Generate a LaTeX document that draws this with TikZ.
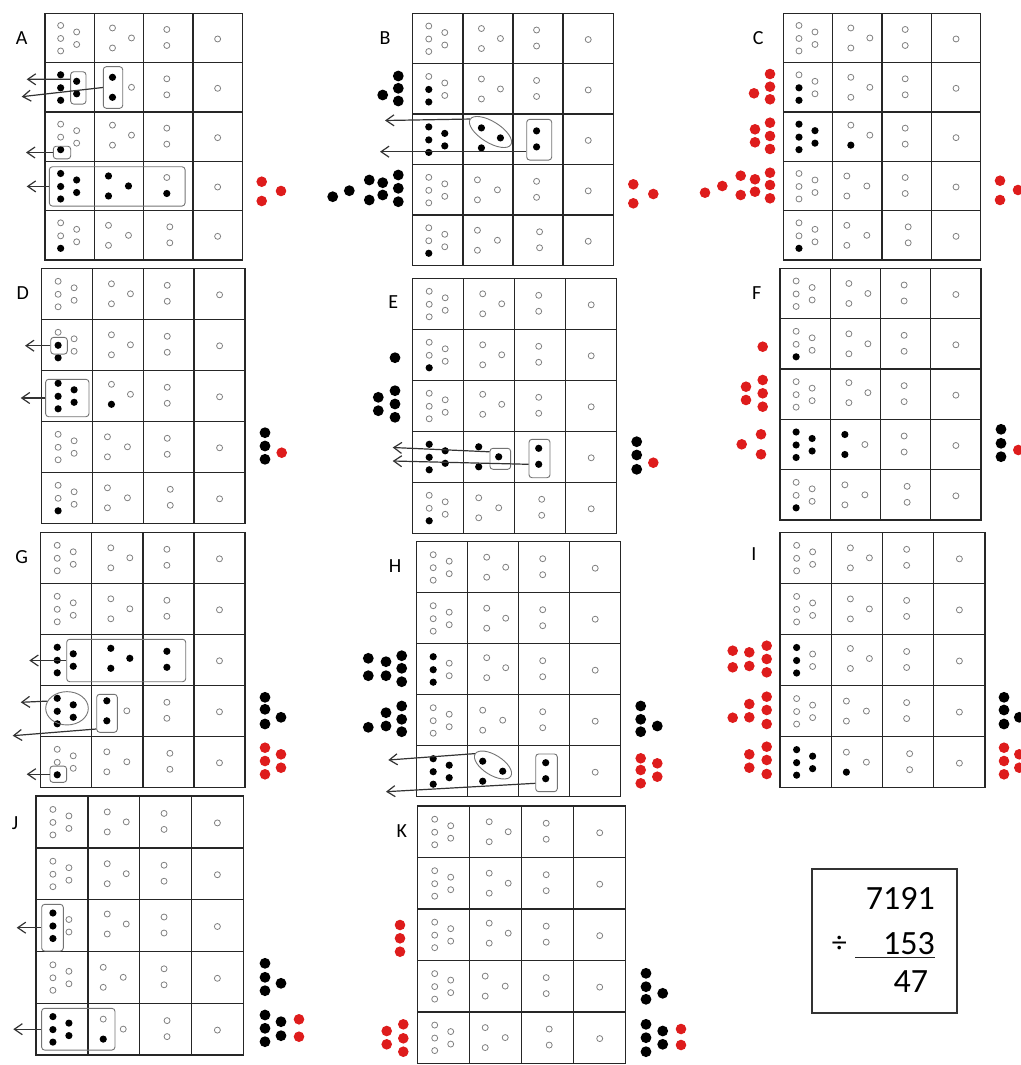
\documentclass[tikz,border=0pt]{standalone}
\usepackage{fontspec}
\setmainfont{Carlito}
\usetikzlibrary{arrows.meta,shapes.geometric}
\definecolor{dotred}{RGB}{222,28,28}
\newcommand\panel[4]{%
  \def\pX{#1}\def\pY{#2}%
  \pgfmathsetmacro\pcw{(#3-#1)/4}\pgfmathsetmacro\pch{(#4-#2)/5}%
  \draw[gridln] (#1,#2) rectangle (#3,#4);
  \foreach \i in {1,2,3} {\draw[gridln] ({#1+\i*\pcw},#2) -- ({#1+\i*\pcw},#4);}
  \foreach \i in {1,2,3,4} {\draw[gridln] (#1,{#2+\i*\pch}) -- (#3,{#2+\i*\pch});}
}
\newcommand\cone[6]{%
  \pgfmathsetmacro\ccx{\pX+0.5*\pcw}\pgfmathsetmacro\ccy{\pY+(#1-0.5)*\pch}%
  \path[#2] ({\ccx-9},{\ccy-12.5}) circle;
  \path[#3] ({\ccx-9},{\ccy+0.5}) circle;
  \path[#4] ({\ccx-9},{\ccy+13}) circle;
  \path[#5] ({\ccx+7},{\ccy-6}) circle;
  \path[#6] ({\ccx+7},{\ccy+6.5}) circle;
}
\newcommand\ctwo[4]{%
  \pgfmathsetmacro\ccx{\pX+1.5*\pcw}\pgfmathsetmacro\ccy{\pY+(#1-0.5)*\pch}%
  \ifnum#1>3 \def\dl{-10.5}\def\dr{9.5}\else\def\dl{-6.5}\def\dr{12.5}\fi
  \ifnum#1=3 \def\dy{-1.5}\else\def\dy{0}\fi
  \path[#2] ({\ccx+\dl},{\ccy-10+\dy}) circle;
  \path[#3] ({\ccx+\dl},{\ccy+10+\dy}) circle;
  \path[#4] ({\ccx+\dr},{\ccy+\dy}) circle;
}
\newcommand\cthree[3]{%
  \pgfmathsetmacro\ccx{\pX+2.5*\pcw}\pgfmathsetmacro\ccy{\pY+(#1-0.5)*\pch}%
  \ifnum#1>4 \def\dl{1.5}\else\def\dl{-1.5}\fi
  \path[#2] ({\ccx+\dl},{\ccy-8.5}) circle;
  \path[#3] ({\ccx+\dl},{\ccy+7.5}) circle;
}
\newcommand\cfour[2]{%
  \pgfmathsetmacro\ccx{\pX+3.5*\pcw}\pgfmathsetmacro\ccy{\pY+(#1-0.5)*\pch}%
  \path[#2] ({\ccx},{\ccy+1}) circle;
}
\newcommand\rtail[1]{\ctwo{#1}{od}{od}{od}\cthree{#1}{od}{od}\cfour{#1}{od}}
\newcommand\orow[1]{\cone{#1}{od}{od}{od}{od}{od}\rtail{#1}}
\begin{document}
\begin{tikzpicture}[x=1pt,y=-1pt,
  gridln/.style={draw=black!85, line width=1.4pt},
  od/.style={draw=black!50, line width=0.8pt, fill=white, radius=3.0pt},
  fd/.style={fill=black, radius=3.6pt},
  bd/.style={fill=black, radius=5.4pt},
  rd/.style={fill=dotred, radius=5.3pt},
  grp/.style={draw=black!55, line width=0.9pt, rounded corners=3pt, inner sep=0pt},
  grpe/.style={draw=black!55, line width=0.9pt, ellipse, inner sep=0pt},
  arr/.style={draw=black!80, line width=1.2pt, -{Straight Barb[length=8pt,width=11pt]}},
  lab/.style={font=\fontsize{20}{24}\selectfont, inner sep=0pt},
  num/.style={font=\fontsize{34}{40}\selectfont, inner sep=0pt, anchor=east}]
\useasboundingbox (0,0) rectangle (1020,1065);

% ---------------- A
\panel{45}{13.3}{242.3}{260}
\orow{1}
\cone{2}{fd}{fd}{fd}{fd}{fd}\ctwo{2}{fd}{fd}{od}\cthree{2}{od}{od}\cfour{2}{od}
\cone{3}{od}{od}{fd}{od}{od}\rtail{3}
\cone{4}{fd}{fd}{fd}{fd}{fd}\ctwo{4}{fd}{fd}{fd}\cthree{4}{od}{fd}\cfour{4}{od}
\cone{5}{od}{od}{fd}{od}{od}\rtail{5}
\node[grp, minimum width=15.3, minimum height=32.3] (A2a) at (78.3,87.9) {};
\node[grp, minimum width=19.4, minimum height=41.6] (A2b) at (113,87.5) {};
\node[grp, minimum width=17.4, minimum height=12.6] (A3) at (62,152.5) {};
\node[grp, minimum width=135.7, minimum height=39.3] (A4) at (117.2,186.4) {};
\coordinate (Ta1) at (26.7,79.3);
\coordinate (Ta2) at (21.7,96.7);
\coordinate (Ta3) at (26,152.5);
\coordinate (Ta4) at (26.7,186.4);
\draw[arr] ([yshift=8.6pt]A2a.west) -- (Ta1);
\draw[arr] (A2b.west) -- (Ta2);
\draw[arr] (A3.west) -- (Ta3);
\draw[arr] (A4.west) -- (Ta4);
\foreach \x/\y in {261.7/181.7,261.7/201,281/191} {\path[rd] (\x,\y) circle;}
\node[lab] (labA) at (21.7,38.3) {A};

% ---------------- B
\panel{412.7}{13.3}{613.3}{265.5}
\orow{1}
\cone{2}{od}{fd}{fd}{od}{od}\rtail{2}
\cone{3}{fd}{fd}{fd}{fd}{fd}\ctwo{3}{fd}{fd}{fd}\cthree{3}{fd}{fd}\cfour{3}{od}
\orow{4}
\cone{5}{od}{od}{fd}{od}{od}\rtail{5}
\node[grpe, rotate=-32, minimum width=48, minimum height=21] (B3e) at (490.5,132) {};
\node[grp, minimum width=25, minimum height=40.7] (B3r) at (539.2,139.7) {};
\coordinate (Tb1) at (385,120.5);
\coordinate (Tb2) at (380,151.7);
\draw[arr] (B3e.west) -- (Tb1);
\draw[arr] ([yshift=-12pt]B3r.west) -- (Tb2);
\foreach \x/\y in {398.3/76,398.3/88.3,398.3/101,382.7/95,
  398.3/175,398.3/188.3,398.3/201.7,382.7/182.7,382.7/195,369.3/180,369.3/200,349.3/190.7,332.7/196.7}
  {\path[bd] (\x,\y) circle;}
\foreach \x/\y in {633.3/184.3,633.3/203.3,653.3/194} {\path[rd] (\x,\y) circle;}
\node[lab] (labB) at (385,38.3) {B};

% ---------------- C
\panel{783.3}{13.3}{980.7}{260}
\orow{1}
\cone{2}{od}{fd}{fd}{od}{od}\rtail{2}
\cone{3}{fd}{fd}{fd}{fd}{fd}\ctwo{3}{od}{fd}{od}\cthree{3}{od}{od}\cfour{3}{od}
\orow{4}
\cone{5}{od}{od}{fd}{od}{od}\rtail{5}
\foreach \x/\y in {770/74,770/86.7,770/99.3,754/93.3,
  770/122.7,770/136,770/149,755/129.3,755/142.3,
  770/172.7,770/185,770/198.3,755/179.3,755/191.7,740.7/175.7,740.7/195,722.3/186,705/192.7,
  1000/180.7,1000/200,1018/190} {\path[rd] (\x,\y) circle;}
\node[lab] (labC) at (758.3,38.3) {C};

% ---------------- D
\panel{41.7}{268.3}{245}{523.3}
\orow{1}
\cone{2}{od}{fd}{fd}{od}{od}\rtail{2}
\cone{3}{fd}{fd}{fd}{fd}{fd}\ctwo{3}{od}{fd}{od}\cthree{3}{od}{od}\cfour{3}{od}
\orow{4}
\cone{5}{od}{od}{fd}{od}{od}\rtail{5}
\node[grp, minimum width=16.6, minimum height=16.7] (D2) at (59,345.7) {};
\node[grp, minimum width=43.3, minimum height=37.4] (D3) at (67.3,398) {};
\coordinate (Td1) at (25,345.7);
\coordinate (Td2) at (20.7,398);
\draw[arr] (D2.west) -- (Td1);
\draw[arr] (D3.west) -- (Td2);
\foreach \x/\y in {265/432.7,265/446,265/459.3} {\path[bd] (\x,\y) circle;}
\path[rd] (281.7,452.7) circle;
\node[lab] (labD) at (22.7,293.3) {D};

% ---------------- E
\panel{412.7}{278.3}{616.7}{533.3}
\orow{1}
\cone{2}{od}{od}{fd}{od}{od}\rtail{2}
\orow{3}
\cone{4}{fd}{fd}{fd}{fd}{fd}\ctwo{4}{fd}{fd}{fd}\cthree{4}{fd}{fd}\cfour{4}{od}
\cone{5}{od}{od}{fd}{od}{od}\rtail{5}
\node[grp, minimum width=20.7, minimum height=21] (E4a) at (500.3,458.8) {};
\node[grp, minimum width=21, minimum height=38.4] (E4b) at (539.5,458.5) {};
\coordinate (Te1) at (392.7,447.5);
\coordinate (Te2) at (392.7,461);
\draw[arr] ([yshift=7pt]E4a.west) -- (Te1);
\draw[arr] ([yshift=-5.8pt]E4b.west) -- (Te2);
\foreach \x/\y in {395/357.7,395/390.7,395/404,395/417.3,378.3/397.3,378.3/410.7,
  636.7/441.7,636.7/455,636.7/469.3} {\path[bd] (\x,\y) circle;}
\path[rd] (653.3,462.7) circle;
\node[lab] (labE) at (393.3,301.7) {E};

% ---------------- F
\panel{780}{268.3}{981}{520}
\orow{1}
\cone{2}{od}{od}{fd}{od}{od}\rtail{2}
\orow{3}
\cone{4}{fd}{fd}{fd}{fd}{fd}\ctwo{4}{fd}{fd}{od}\cthree{4}{od}{od}\cfour{4}{od}
\cone{5}{od}{od}{fd}{od}{od}\rtail{5}
\foreach \x/\y in {762.7/346.7,762.7/380,762.7/393.3,762.7/406.7,746/386.7,746/400,
  761/434.3,761/454.3,741.7/444.3,1018.3/450} {\path[rd] (\x,\y) circle;}
\foreach \x/\y in {1001/429.3,1001/443.3,1001/456.7} {\path[bd] (\x,\y) circle;}
\node[lab] (labF) at (756.7,293.3) {F};

% ---------------- G
\panel{40.7}{532.3}{245}{787.3}
\orow{1}\orow{2}
\cone{3}{fd}{fd}{fd}{fd}{fd}\ctwo{3}{fd}{fd}{fd}\cthree{3}{fd}{fd}\cfour{3}{od}
\cone{4}{fd}{fd}{fd}{fd}{fd}\ctwo{4}{fd}{fd}{od}\cthree{4}{od}{od}\cfour{4}{od}
\cone{5}{od}{od}{fd}{od}{od}\rtail{5}
\node[grp, minimum width=119, minimum height=42.4] (G3) at (126.2,660.5) {};
\node[grpe, minimum width=42.6, minimum height=33.3] (G4e) at (67,708.3) {};
\node[grp, minimum width=20.6, minimum height=38] (G4r) at (107,713.3) {};
\node[grp, minimum width=16.7, minimum height=16.3] (G5) at (58.3,774.2) {};
\coordinate (Tg1) at (29.3,660.5);
\coordinate (Tg2) at (20.7,702.3);
\coordinate (Tg3) at (12.7,735.7);
\coordinate (Tg4) at (26.7,774.2);
\draw[arr] (G3.west) -- (Tg1);
\draw[arr] (G4e.160) -- (Tg2);
\draw[arr] ([yshift=-15.7pt]G4r.west) -- (Tg3);
\draw[arr] (G5.west) -- (Tg4);
\foreach \x/\y in {265/697.3,265/709.3,265/724,281/717.3} {\path[bd] (\x,\y) circle;}
\foreach \x/\y in {265/747.7,265/761,265/774.3,281/754.3,281/767.7} {\path[rd] (\x,\y) circle;}
\node[lab] (labG) at (21.7,557.3) {G};

% ---------------- H
\panel{416.7}{541.7}{620.7}{796.7}
\orow{1}\orow{2}
\cone{3}{fd}{fd}{fd}{od}{od}\rtail{3}
\orow{4}
\cone{5}{fd}{fd}{fd}{fd}{fd}\ctwo{5}{fd}{fd}{fd}\cthree{5}{fd}{fd}\cfour{5}{od}
\node[grpe, rotate=-32, minimum width=42, minimum height=20] (H5e) at (493,765) {};
\node[grp, minimum width=21.6, minimum height=37.7] (H5r) at (546.5,772.8) {};
\coordinate (Th1) at (388.3,760);
\coordinate (Th2) at (386,791.7);
\draw[arr] (H5e.west) -- (Th1);
\draw[arr] ([yshift=-10.5pt]H5r.west) -- (Th2);
\foreach \x/\y in {401.7/655.7,401.7/668.3,401.7/681.7,386/661.7,386/675.7,368.3/658.3,368.3/675.7,
  401.7/706,401.7/719.3,401.7/731.7,386/712.7,386/726,368.3/727.3,
  640.7/706,640.7/719.3,640.7/731.7,657.3/726} {\path[bd] (\x,\y) circle;}
\foreach \x/\y in {640.7/758.3,640.7/770,640.7/783.3,657.3/763.3,657.3/776.7} {\path[rd] (\x,\y) circle;}
\node[lab] (labH) at (395,566) {H};

% ---------------- I
\panel{780}{532.3}{985}{787.7}
\orow{1}\orow{2}
\cone{3}{fd}{fd}{fd}{od}{od}\rtail{3}
\orow{4}
\cone{5}{fd}{fd}{fd}{fd}{fd}\ctwo{5}{od}{fd}{od}\cthree{5}{od}{od}\cfour{5}{od}
\foreach \x/\y in {766.7/645.7,766.7/659,766.7/672.3,749.3/652.3,749.3/666,732.7/650.7,732.7/667.3,
  766.7/696.7,766.7/710,766.7/724,749.3/704,749.3/717.3,732.7/717.7,
  766.7/746.7,766.7/760,766.7/774,749.3/754.3,749.3/767.7,
  1004/747.7,1004/761,1004/774.3,1019.3/754.3,1019.3/767.7} {\path[rd] (\x,\y) circle;}
\foreach \x/\y in {1004/697.3,1004/710,1004/724,1019.3/717.3} {\path[bd] (\x,\y) circle;}
\node[lab] (labI) at (754,554.3) {I};

% ---------------- J
\panel{36}{796}{243.3}{1055}
\orow{1}\orow{2}
\cone{3}{fd}{fd}{fd}{od}{od}\rtail{3}
\orow{4}
\cone{5}{fd}{fd}{fd}{fd}{fd}\ctwo{5}{od}{fd}{od}\cthree{5}{od}{od}\cfour{5}{od}
\node[grp, minimum width=21.6, minimum height=46.7] (J3) at (52.5,927.7) {};
\node[grp, minimum width=73.3, minimum height=41.7] (J5) at (78.3,1029.2) {};
\coordinate (Tj1) at (16.7,927.7);
\coordinate (Tj2) at (13.3,1029.2);
\draw[arr] (J3.west) -- (Tj1);
\draw[arr] (J5.west) -- (Tj2);
\foreach \x/\y in {265/963.3,265/977.3,265/990.7,281/983.3,
  265/1015,265/1028.3,265/1041.7,281/1021.7,281/1035.7} {\path[bd] (\x,\y) circle;}
\foreach \x/\y in {299/1019.3,299/1036.7} {\path[rd] (\x,\y) circle;}
\node[lab] (labJ) at (15,823.3) {J};

% ---------------- K
\panel{417.7}{806}{625.7}{1063.3}
\orow{1}\orow{2}\orow{3}\orow{4}\orow{5}
\foreach \x/\y in {400/925,400/938.3,400/951.7,
  403.3/1024.3,403.3/1038.3,403.3/1051.7,386.7/1031,386.7/1044.3,
  681/1029,681/1045} {\path[rd] (\x,\y) circle;}
\foreach \x/\y in {646/973.3,646/986.7,646/999.3,662.7/993.3,
  646/1024.3,646/1037.7,646/1051.7,662.7/1031,662.7/1044.3} {\path[bd] (\x,\y) circle;}
\node[lab] (labK) at (401.7,831) {K};

% ---------------- answer box
\node[draw=black!80, line width=1.3pt, minimum width=145, minimum height=144, inner sep=0pt] (ans) at (884.5,941) {};
\node[num] (n1) at (935,898.3) {7191};
\node[num] (n2) at (935,943.3) {153};
\node[num] (n3) at (928.3,981.7) {47};
\node[font=\fontsize{30}{36}\selectfont, inner sep=0pt] (dv) at (839.3,944) {÷};
\coordinate (u1) at (855,957.3);
\coordinate (u2) at (935,957.3);
\draw[line width=1.6pt, black!85] (u1) -- (u2);
\end{tikzpicture}
\end{document}
